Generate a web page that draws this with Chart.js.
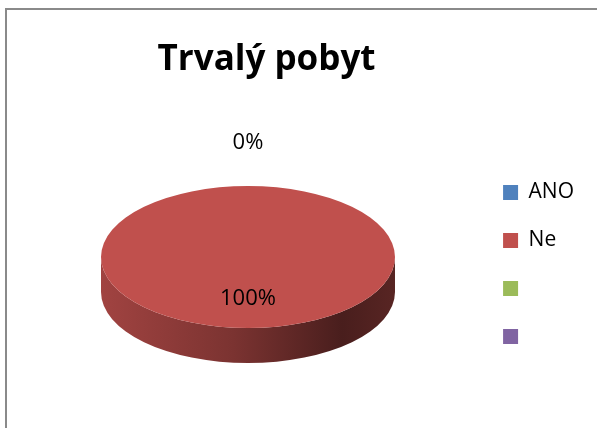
<!DOCTYPE html>
<html>
<head>
<meta charset="utf-8">
<script src="https://cdn.jsdelivr.net/npm/chart.js@4.4.1/dist/chart.umd.min.js"></script>
<style>
  html, body { margin: 0; padding: 0; background: #fff; }
  #wrap { position: relative; width: 597px; height: 428px; overflow: hidden; }
  #frame { position: absolute; left: 5px; top: 8px; right: -10px; bottom: -10px; border: 2px solid #8a8a8a; pointer-events: none; }
  canvas { position: absolute; left: 0; top: 0; }
</style>
</head>
<body>
<div id="wrap">
  <canvas id="chart" width="597" height="428"></canvas>
  <div id="frame"></div>
</div>
<script>
const categories = ['ANO', 'Ne', '', ''];
const percentValues = [0, 100, null, null];
const sliceColors = ['#4F81BD', '#C0504D', '#9BBB59', '#8064A2'];

// where the tilted pie sits on the page
const PIE_X = 248;
const PIE_Y = 257;
const TILT = 0.483;
const DEPTH = 35;

function shade(hex, f) {
    const n = parseInt(hex.slice(1), 16);
    const r = Math.round(((n >> 16) & 255) * f);
    const g = Math.round(((n >> 8) & 255) * f);
    const b = Math.round((n & 255) * f);
    return `rgb(${r},${g},${b})`;
}

const pie3d = {
    id: 'pie3d',
    beforeDatasetsDraw(chart) {
        const ctx = chart.ctx;
        const arcs = chart.getDatasetMeta(0).data;
        const r = arcs[0].outerRadius;
        const cx = arcs[0].x;
        const cy = arcs[0].y;

        // side walls, front half only
        arcs.forEach((arc, i) => {
            const start = arc.startAngle;
            const end = arc.endAngle;
            if (end - start <= 0) return;
            [-2 * Math.PI, 0, 2 * Math.PI].forEach(off => {
                const s = Math.max(start, off);
                const e = Math.min(end, off + Math.PI);
                if (e <= s) return;
                const grad = ctx.createLinearGradient(PIE_X - r, 0, PIE_X + r, 0);
                const c = sliceColors[i];
                grad.addColorStop(0, shade(c, 0.84));
                grad.addColorStop(0.45, shade(c, 0.64));
                grad.addColorStop(0.82, shade(c, 0.38));
                grad.addColorStop(1, shade(c, 0.46));
                ctx.beginPath();
                ctx.ellipse(PIE_X, PIE_Y, r, r * TILT, 0, s - off, e - off);
                ctx.ellipse(PIE_X, PIE_Y + DEPTH, r, r * TILT, 0, e - off, s - off, true);
                ctx.closePath();
                ctx.fillStyle = grad;
                ctx.fill();
            });
        });

        // squash the library's own pie into the top face
        ctx.save();
        ctx.translate(PIE_X, PIE_Y);
        ctx.scale(1, TILT);
        ctx.translate(-cx, -cy);
    },
    afterDatasetsDraw(chart) {
        const ctx = chart.ctx;
        ctx.restore();

        const arcs = chart.getDatasetMeta(0).data;
        const r = arcs[0].outerRadius;
        const total = percentValues.reduce((a, b) => a + (b || 0), 0);

        ctx.save();
        ctx.font = '22px "Open Sans"';
        ctx.fillStyle = '#000';
        ctx.textAlign = 'center';
        ctx.textBaseline = 'middle';
        arcs.forEach((arc, i) => {
            if (!categories[i] || percentValues[i] === null) return;
            const mid = (arc.startAngle + arc.endAngle) / 2;
            let lx, ly;
            if (arc.endAngle - arc.startAngle === 0) {
                lx = PIE_X + r * Math.cos(mid) + 43 * Math.cos(mid);
                ly = PIE_Y + r * TILT * Math.sin(mid) + 43 * Math.sin(mid);
            } else {
                lx = PIE_X + 0.56 * r * Math.cos(mid);
                ly = PIE_Y + 0.56 * r * TILT * Math.sin(mid) + 2;
            }
            ctx.fillText(Math.round(percentValues[i] / total * 100) + '%', lx, ly);
        });
        ctx.restore();
    }
};

new Chart(document.getElementById('chart'), {
    type: 'pie',
    data: {
        labels: categories,
        datasets: [{
            data: percentValues,
            backgroundColor: sliceColors,
            borderWidth: 0,
            clip: false
        }]
    },
    options: {
        responsive: false,
        animation: false,
        radius: 147,
        layout: { padding: { left: 57, top: 10, right: 13, bottom: 0 } },
        plugins: {
            title: {
                display: true,
                text: 'Trvalý pobyt',
                color: '#000',
                fullSize: false,
                font: { family: 'Open Sans', weight: 'bold', size: 35 },
                padding: { top: 29, bottom: 20 }
            },
            legend: {
                position: 'right',
                fullSize: false,
                maxWidth: 120,
                labels: {
                    color: '#000',
                    boxWidth: 15,
                    boxHeight: 15,
                    padding: 27,
                    font: { family: 'Open Sans', size: 21 }
                }
            },
            tooltip: { enabled: false }
        }
    },
    plugins: [pie3d]
});
</script>
</body>
</html>
